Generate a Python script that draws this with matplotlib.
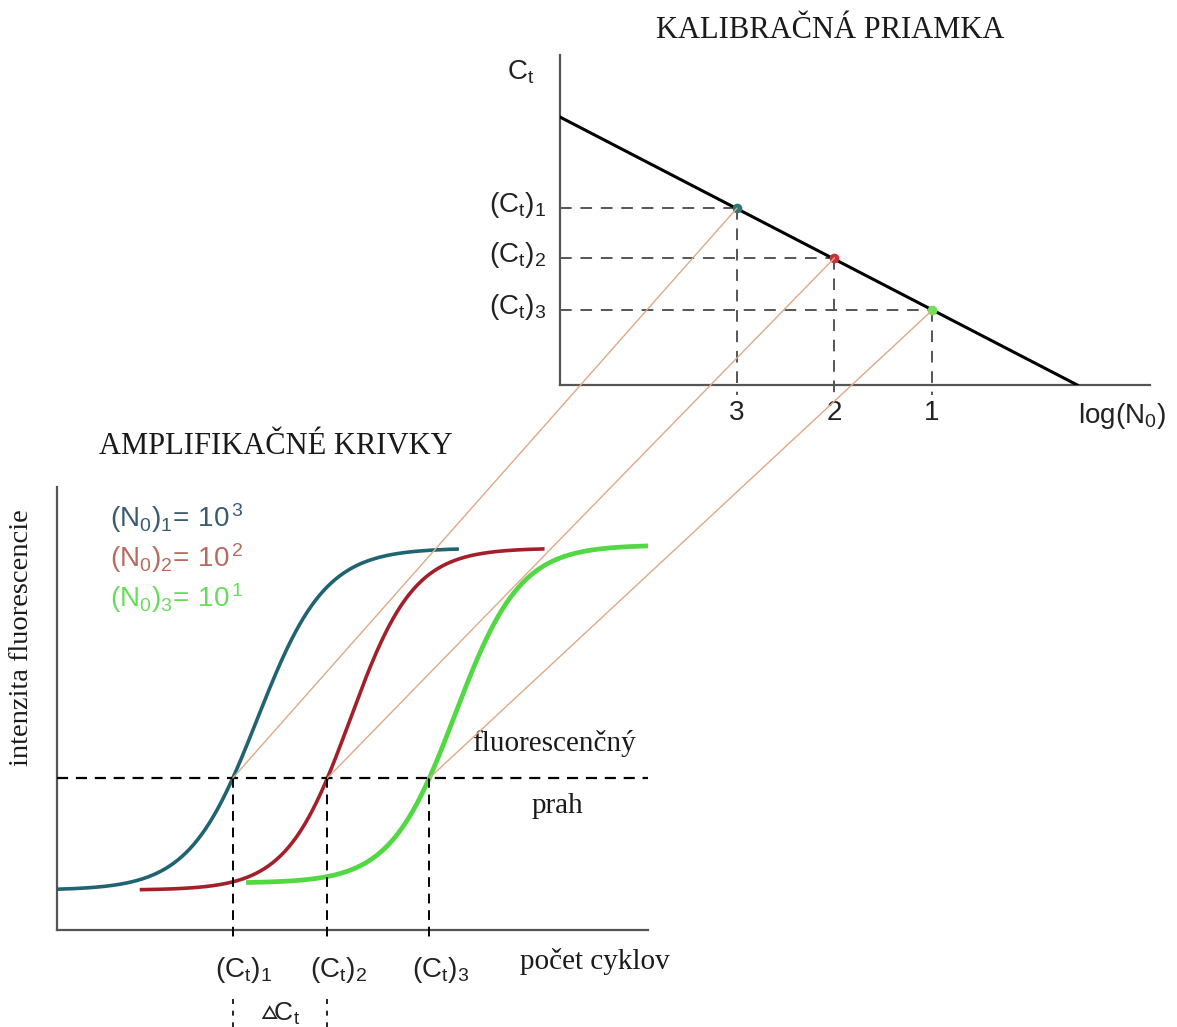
import numpy as np
import matplotlib
matplotlib.use("Agg")
import matplotlib.pyplot as plt
from matplotlib.patches import ConnectionPatch

plt.rcParams["mathtext.fontset"] = "custom"
plt.rcParams["mathtext.rm"] = "Liberation Sans"
plt.rcParams["mathtext.it"] = "Liberation Sans:italic"

# amplification curves (cycles, fluorescence 0..1)
ct_cycles = [11.9, 18.3, 25.2]
curve_width = [2.3, 2.15, 2.2]
baseline = [0.09, 0.09, 0.106]
plateau = [0.862, 0.862, 0.869]
curve_start = [0.0, 5.6, 12.8]
curve_end = [27.2, 33.0, 40.0]
threshold = 0.343
curve_colors = ["#1f6470", "#a3202a", "#52d843"]
curve_lw = [2.6, 2.6, 3.4]
legend_labels = [r"$\mathrm{(N_0)_1\!=\,10^{\,3}}$", r"$\mathrm{(N_0)_2\!=\,10^{\,2}}$", r"$\mathrm{(N_0)_3\!=\,10^{\,1}}$"]
legend_colors = ["#3a5a70", "#b86a5e", "#66dd58"]

# calibration line
log_n0 = [3, 2, 1]
ct_cal = [5.36, 3.85, 2.26]
line_x = [4.815, -0.49]
line_y = [8.12, 0.0]
point_colors = ["#2a7878", "#c8303a", "#6ee05a"]
ct_labels = [r"$\mathrm{(C_t)_1}$", r"$\mathrm{(C_t)_2}$", r"$\mathrm{(C_t)_3}$"]

W, H = 1177, 1027
fig = plt.figure(figsize=(W / 100, H / 100), dpi=100)

def box(l, r, b, t):
    return [l / W, (H - b) / H, (r - l) / W, (b - t) / H]

axis_col = "#555555"
serif = "Liberation Serif"
sans = "Liberation Sans"
txt = "#1a1a1a"

# ---- amplification curves ----
ax = fig.add_axes(box(57, 648, 930, 487))
ax.set_xlim(0, 40)
ax.set_ylim(0, 1)
for s in ["top", "right"]:
    ax.spines[s].set_visible(False)
for s in ["left", "bottom"]:
    ax.spines[s].set_color(axis_col)
    ax.spines[s].set_linewidth(1.6)
ax.set_xticks([])
ax.set_yticks([])

for i in [2, 1, 0]:
    f = (threshold - baseline[i]) / (plateau[i] - baseline[i])
    mid = ct_cycles[i] - curve_width[i] * np.log(f / (1 - f))
    x = np.linspace(curve_start[i], curve_end[i], 300)
    y = baseline[i] + (plateau[i] - baseline[i]) / (1 + np.exp(-(x - mid) / curve_width[i]))
    ax.plot(x, y, color=curve_colors[i], lw=curve_lw[i], solid_capstyle="butt", zorder=3)

ax.axhline(threshold, color="black", lw=1.6, dashes=(5, 3.5), zorder=4)
for i, c in enumerate(ct_cycles):
    ax.plot([c, c], [threshold, -0.03], color="black", lw=1.4, dashes=(5, 3.5), clip_on=False, zorder=4)
    ax.text(c + 0.75, -0.09, ct_labels[i], fontsize=20, ha="center", va="center", color="#222222")
for c in ct_cycles[:2]:
    ax.plot([c, c], [-0.155, -0.225], color="black", lw=1.2, dashes=(3, 4), clip_on=False)
ax.text((ct_cycles[0] + ct_cycles[1]) / 2, -0.19, r"$\mathrm{\vartriangle\!C_t}$", fontsize=19,
        ha="center", va="center", color="#222222")

for i, lab in enumerate(legend_labels):
    ax.text(3.6, 0.93 - i * 0.09, lab, fontsize=20, color=legend_colors[i], ha="left", va="center")

ax.text(33.6, 0.42, "fluorescenčný", fontsize=21, family=serif, ha="center", va="center", color=txt)
ax.text(33.9, 0.28, "prah", fontsize=21, family=serif, ha="center", va="center", color=txt)
ax.text(36.4, -0.072, "počet cyklov", fontsize=21, family=serif, ha="center", va="center", color=txt)
ax.text(-2.4, 0.66, "intenzita fluorescencie", fontsize=20.5, family=serif, rotation=90,
        ha="center", va="center", color=txt)
fig.text(276 / W, 1 - 446 / H, "AMPLIFIKAČNÉ KRIVKY", fontsize=22, family=serif, ha="center", va="center", color=txt)

# ---- calibration line ----
ax2 = fig.add_axes(box(560, 1150, 385, 55))
ax2.set_xlim(4.815, -1.236)
ax2.set_ylim(0, 10)
for s in ["top", "right"]:
    ax2.spines[s].set_visible(False)
for s in ["left", "bottom"]:
    ax2.spines[s].set_color(axis_col)
    ax2.spines[s].set_linewidth(1.6)
ax2.set_xticks([])
ax2.set_yticks([])
ax2.plot(line_x, line_y, color="black", lw=2.2, zorder=3)
for i in range(3):
    ax2.plot([4.815, log_n0[i]], [ct_cal[i], ct_cal[i]], color=axis_col, lw=1.4, dashes=(6, 4.5))
    ax2.plot([log_n0[i], log_n0[i]], [ct_cal[i], -0.3], color=axis_col, lw=1.4, dashes=(6, 4.5), clip_on=False)
    ax2.plot(log_n0[i], ct_cal[i], "o", ms=6, color=point_colors[i], zorder=5)
    ax2.text(log_n0[i], -0.85, str(log_n0[i]), fontsize=20, family=sans, ha="center", va="center", color="#222222")
    ax2.text(4.96, ct_cal[i] + 0.1, ct_labels[i], fontsize=20, ha="right", va="center", color="#222222")
ax2.text(5.22, 9.5, r"$\mathrm{C_t}$", fontsize=20, ha="center", va="center", color="#222222")
ax2.text(-0.95, -0.95, r"$\mathrm{log(N_0)}$", fontsize=20, ha="center", va="center", color="#222222")
fig.text(830 / W, 1 - 30 / H, "KALIBRAČNÁ PRIAMKA", fontsize=22, family=serif, ha="center", va="center", color=txt)

# connecting lines
for i in range(3):
    con = ConnectionPatch(xyA=(ct_cycles[i], threshold), coordsA=ax.transData,
                          xyB=(log_n0[i], ct_cal[i]), coordsB=ax2.transData,
                          color="#dfa985", lw=1.0, zorder=2)
    fig.add_artist(con)

fig.savefig("out.png", dpi=100)
